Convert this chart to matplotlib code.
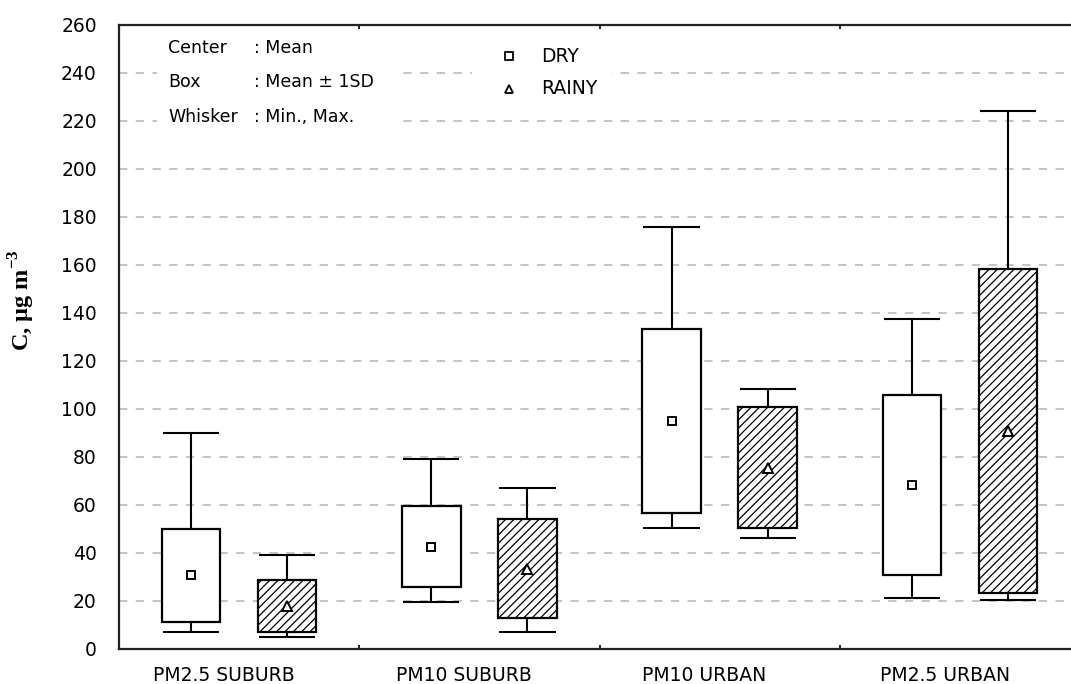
import matplotlib
matplotlib.use("Agg")
import matplotlib.pyplot as plt
import matplotlib.transforms as mtransforms
from matplotlib.patches import Rectangle
import numpy as np

plt.rcParams["hatch.linewidth"] = 0.9
plt.rcParams["mathtext.fontset"] = "custom"
plt.rcParams["mathtext.rm"] = "Liberation Serif:bold"
plt.rcParams["mathtext.bf"] = "Liberation Serif:bold"

# Particulate concentration summary per site (µg m-3)
categories = ["PM2.5 SUBURB", "PM10 SUBURB", "PM10 URBAN", "PM2.5 URBAN"]
seasons = ["DRY", "RAINY"]

dry_mean = [30.7, 42.7, 95.0, 68.3]
dry_sd = [19.5, 17.0, 38.3, 37.6]
dry_min = [7.2, 19.7, 50.5, 21.4]
dry_max = [90.0, 79.0, 175.7, 137.4]

rainy_mean = [18.0, 33.5, 75.6, 90.8]
rainy_sd = [10.9, 20.5, 25.1, 67.6]
rainy_min = [4.9, 7.2, 46.4, 20.4]
rainy_max = [39.0, 67.2, 108.2, 224.2]

y_ticks = list(range(0, 261, 20))

fig = plt.figure(figsize=(10.71, 6.84), dpi=100)
ax = fig.add_axes([119 / 1071, 35 / 684, 961 / 1071, 624 / 684])
ax.set_xlim(-0.5, 3.5)
ax.set_ylim(0, 260)

# dashed horizontal grid
for yv in y_ticks[1:-1]:
    ax.axhline(yv, color="#c4c4c4", lw=1.4, ls=(0, (4.3, 4.3)), zorder=0)

offset = 0.2
box_w = 0.244
line_kw = dict(color="black", lw=1.5, solid_capstyle="butt", zorder=3)


def draw_group(xs, mean, sd, vmin, vmax, hatched, marker):
    for x, m, s, lo, hi in zip(xs, mean, sd, vmin, vmax):
        b_lo, b_hi = m - s, m + s
        rect = Rectangle((x - box_w / 2, b_lo), box_w, b_hi - b_lo,
                         facecolor="white", edgecolor="black", lw=1.6,
                         hatch="////" if hatched else None, zorder=2)
        ax.add_patch(rect)
        ax.plot([x, x], [b_hi, hi], **line_kw)
        ax.plot([x, x], [lo, b_lo], **line_kw)
        ax.plot([x - box_w / 2 + 0.005, x + box_w / 2 - 0.005], [hi, hi], **line_kw)
        ax.plot([x - box_w / 2 + 0.005, x + box_w / 2 - 0.005], [lo, lo], **line_kw)
        ax.plot([x], [m], marker=marker, ms=6.3 if marker == "s" else 6.5,
                mfc="white", mec="black", mew=1.4, zorder=4, ls="none")


pos = np.arange(len(categories))
draw_group(pos - offset, dry_mean, dry_sd, dry_min, dry_max, False, "s")
draw_group(pos + offset, rainy_mean, rainy_sd, rainy_min, rainy_max, True, "^")

# axes styling
for side in ["left", "bottom", "top"]:
    ax.spines[side].set_linewidth(1.6)
    ax.spines[side].set_color("#222222")
ax.spines["right"].set_visible(False)

ax.set_yticks(y_ticks)
ax.set_yticklabels([str(v) for v in y_ticks], fontsize=13.5, family="DejaVu Sans")
ax.tick_params(axis="y", length=0, pad=16)

ax.set_xticks(pos)
ax.set_xticklabels(categories, fontsize=13.5, family="DejaVu Sans")
ax.tick_params(axis="x", length=0, pad=12)
shift = mtransforms.ScaledTranslation(-15 / 100, 0, fig.dpi_scale_trans)
for lab in ax.get_xticklabels():
    lab.set_transform(lab.get_transform() + shift)

ax.set_xticks(pos[:-1] + 0.5, minor=True)
ax.tick_params(axis="x", which="minor", direction="in", length=3, width=1.2,
               top=True, bottom=True)

ax.set_ylabel(r"C, μg m$^{\mathbf{-3}}$", fontsize=17.5, fontweight="bold",
              family="Liberation Serif")
ax.yaxis.set_label_coords(-82 / 961, (649 - 300) / 624)


def to_ax(px, py):
    return (px - 119) / 961, (649 - py) / 624


# note panel on white background
x0, y0 = to_ax(157, 135)
x1, y1 = to_ax(398, 30)
ax.add_patch(Rectangle((x0, y0), x1 - x0, y1 - y0, transform=ax.transAxes,
                       facecolor="white", edgecolor="none", zorder=1))
x0, y0 = to_ax(472, 105)
x1, y1 = to_ax(612, 30)
ax.add_patch(Rectangle((x0, y0), x1 - x0, y1 - y0, transform=ax.transAxes,
                       facecolor="white", edgecolor="none", zorder=1))

notes = [("Center", ": Mean", 48), ("Box", ": Mean ± 1SD", 82),
         ("Whisker", ": Min., Max.", 117)]
txt_kw = dict(fontsize=12.5, family="DejaVu Sans", va="center", ha="left",
              transform=ax.transAxes, zorder=5)
for name, desc, py in notes:
    ax.text(*to_ax(168, py), name, **txt_kw)
    ax.text(*to_ax(254, py), desc, **txt_kw)

# season key
key_kw = dict(txt_kw, fontsize=13.5)
for season, marker, py in [("DRY", "s", 56), ("RAINY", "^", 89)]:
    mx, my = to_ax(509, py)
    ax.plot([mx], [my], marker=marker, ms=5.5, mfc="white", mec="black",
            mew=1.3, transform=ax.transAxes, zorder=5, ls="none")
    ax.text(*to_ax(541, py), season, **key_kw)

fig.savefig("out.png", dpi=100)
